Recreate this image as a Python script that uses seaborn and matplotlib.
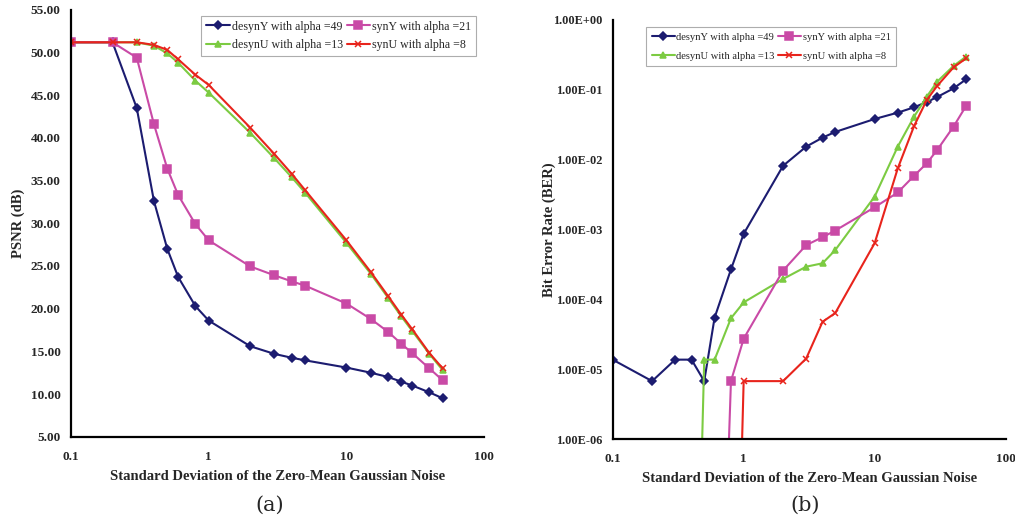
import numpy as np
import pandas as pd
import seaborn as sns
import matplotlib.pyplot as plt
from matplotlib.ticker import FixedLocator, FuncFormatter, NullLocator

# noise standard deviations (shared x)
sigma = [0.1, 0.2, 0.3, 0.4, 0.5, 0.6, 0.8, 1, 2, 3, 4, 5, 10, 15, 20, 25, 30, 40, 50]

# (a) PSNR in dB
psnr_desynY = [51.2, 51.2, 43.5, 32.6, 27.0, 23.7, 20.3, 18.6, 15.6, 14.7, 14.25, 13.95,
               13.1, 12.5, 12.0, 11.45, 11.0, 10.2, 9.5]
psnr_synY = [51.2, 51.2, 49.4, 41.6, 36.4, 33.3, 29.9, 28.0, 24.95, 23.9, 23.2, 22.7,
             20.6, 18.8, 17.3, 15.9, 14.8, 13.0, 11.6]
psnr_desynU = [51.2, 51.2, 51.2, 50.8, 49.9, 48.8, 46.7, 45.3, 40.6, 37.6, 35.4, 33.6,
               27.7, 24.1, 21.3, 19.1, 17.4, 14.7, 12.8]
psnr_synU = [51.2, 51.2, 51.2, 50.9, 50.3, 49.2, 47.4, 46.2, 41.2, 38.1, 35.8, 33.9,
             28.0, 24.3, 21.5, 19.3, 17.6, 14.8, 13.0]

# (b) bit error rate, 0 = no errors
ber_desynY = [1.38e-5, 6.8e-6, 1.38e-5, 1.38e-5, 6.8e-6, 5.5e-5, 2.7e-4, 8.7e-4, 8.2e-3,
              0.0154, 0.0207, 0.025, 0.0383, 0.0472, 0.0563, 0.067, 0.079, 0.105, 0.142]
ber_synY = [0, 0, 0, 0, 0, 0, 6.8e-6, 2.75e-5, 2.6e-4, 6.0e-4, 7.8e-4, 9.7e-4, 2.09e-3,
            3.4e-3, 5.9e-3, 8.9e-3, 0.0138, 0.0298, 0.0594]
ber_desynU = [0, 0, 0, 0, 1.38e-5, 1.38e-5, 5.4e-5, 9.1e-5, 1.97e-4, 2.95e-4, 3.3e-4,
              5.1e-4, 2.97e-3, 0.0154, 0.0414, 0.080, 0.131, 0.22, 0.30]
ber_synU = [0, 0, 0, 0, 0, 0, 0, 6.8e-6, 6.8e-6, 1.43e-5, 4.8e-5, 6.4e-5, 6.4e-4,
            7.5e-3, 0.0304, 0.0717, 0.114, 0.21, 0.283]

labels = ['desynY with alpha =49', 'desynU with alpha =13',
          'synY with alpha =21', 'synU with alpha =8']
colors = ['#1c1c70', '#7ccb42', '#c94aa6', '#e8241c']
markers = ['D', '^', 's', 'x']
msizes = [4, 4.2, 5.2, 4]

serif = 'Liberation Serif'
plt.rcParams['font.family'] = serif


def style_axes(ax, ysize):
    sns.despine(ax=ax)
    for s in ['left', 'bottom']:
        ax.spines[s].set_linewidth(1.6)
        ax.spines[s].set_color('black')
    ax.tick_params(axis='both', direction='out', length=4, width=1.4, labelsize=9.5)
    ax.tick_params(axis='x', pad=6)
    ax.tick_params(axis='y', labelsize=ysize)
    for t in ax.get_xticklabels() + ax.get_yticklabels():
        t.set_fontweight('bold')
    ax.xaxis.set_major_locator(FixedLocator([0.1, 1, 10, 100]))
    ax.xaxis.set_major_formatter(FuncFormatter(lambda v, p: f'{v:g}'))
    ax.xaxis.set_minor_locator(NullLocator())
    ax.set_xlim(0.1, 100)
    ax.set_xlabel('Standard Deviation of the Zero-Mean Gaussian Noise',
                  fontsize=10.5, fontweight='bold', labelpad=5)


def draw(ax, series):
    for ys, lab, c, m, ms in zip(series, labels, colors, markers, msizes):
        df = pd.DataFrame({'x': sigma, 'y': ys})
        sns.lineplot(data=df, x='x', y='y', ax=ax, color=c, marker=m, markersize=ms,
                     markeredgecolor=c, markeredgewidth=1.1, linewidth=1.5,
                     label=lab, sort=False, clip_on=True)


fig = plt.figure(figsize=(10.15, 5.27), dpi=100)
sns.set_style('white')
plt.rcParams['font.family'] = serif

ax1 = fig.add_axes([0.070, 0.1713, 0.407, 0.810])
ax1.set_xscale('log')
draw(ax1, [psnr_desynY, psnr_desynU, psnr_synY, psnr_synU])
ax1.set_ylim(5, 55)
ax1.set_yticks(np.arange(5, 56, 5))
ax1.yaxis.set_major_formatter(FuncFormatter(lambda v, p: f'{v:.2f}'))
style_axes(ax1, 9.5)
ax1.set_ylabel('PSNR (dB)', fontsize=10.5, fontweight='bold', labelpad=4)
leg1 = ax1.legend(ncol=2, loc='upper right', bbox_to_anchor=(0.995, 1.0),
                  fontsize=8.6, frameon=True, fancybox=False, edgecolor='#999999',
                  handlelength=2.0, columnspacing=0.3, handletextpad=0.15,
                  borderpad=0.4, labelspacing=0.55)
leg1.get_frame().set_linewidth(0.8)

# zero BER values are pushed far below the axis so the lines drop off the bottom
ber_floor = 1e-12
ax2 = fig.add_axes([0.6036, 0.1664, 0.3872, 0.7957])
ax2.set_xscale('log')
ax2.set_yscale('log')
draw(ax2, [[v if v > 0 else ber_floor for v in s]
           for s in [ber_desynY, ber_desynU, ber_synY, ber_synU]])
ax2.set_ylim(1e-6, 1)
ax2.yaxis.set_major_locator(FixedLocator([10.0 ** k for k in range(-6, 1)]))
ax2.yaxis.set_minor_locator(NullLocator())
ax2.yaxis.set_major_formatter(FuncFormatter(lambda v, p: f'{v:.2E}'))
style_axes(ax2, 8.8)
ax2.set_ylabel('Bit Error Rate (BER)', fontsize=10.5, fontweight='bold', labelpad=-2)
leg2 = ax2.legend(ncol=2, loc='upper left', bbox_to_anchor=(0.072, 0.995),
                  fontsize=7.6, frameon=True, fancybox=False, edgecolor='#999999',
                  handlelength=2.2, columnspacing=0.3, handletextpad=0.15,
                  borderpad=0.5, labelspacing=0.9)
leg2.get_frame().set_linewidth(0.8)

fig.text(270 / 1015, 1 - 505 / 527, '(a)', ha='center', va='center', fontsize=15,
         family='DejaVu Serif')
fig.text(805 / 1015, 1 - 505 / 527, '(b)', ha='center', va='center', fontsize=15,
         family='DejaVu Serif')

fig.savefig('out.png', dpi=100)
